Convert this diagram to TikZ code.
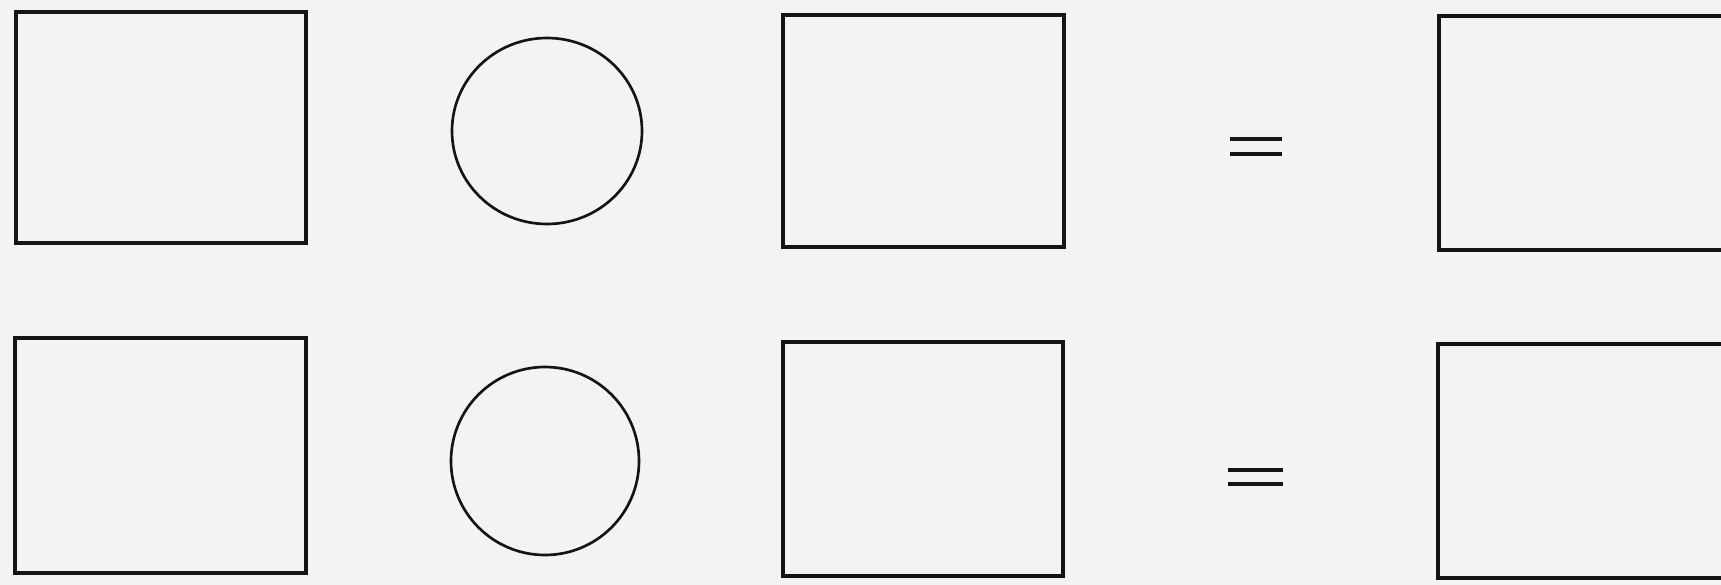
\documentclass[tikz,border=0pt]{standalone}
\definecolor{paper}{RGB}{243,243,243}
\definecolor{ink}{RGB}{20,20,20}
\tikzset{every picture/.style={line width=0.75pt}}
\tikzset{
  panel/.style={draw=ink, line width=2.4},
  ring/.style={draw=ink, line width=2},
  eqbar/.style={draw=ink, line width=2.8}
}

\begin{document}
\begin{tikzpicture}[x=0.75pt,y=0.75pt,yscale=-1,xscale=1]
%set diagram left start at 0, and has size 1721 x 585
\useasboundingbox (0,0) rectangle (1721,585);
\fill [paper] (0,0) rectangle (1721,585);
\clip (0,0) rectangle (1721,585);

%Shape: Rectangle [id:top row]
\draw [panel] (16,12) rectangle (306,243);
%Shape: Circle [id:top row]
\draw [ring] (547,131) circle [x radius=95, y radius=93];
%Shape: Rectangle [id:top row]
\draw [panel] (783,15) rectangle (1064,247);
%Straight Lines [id:equals top]
\coordinate (eqa) at (1230,139);
\coordinate (eqb) at (1282,139);
\coordinate (eqc) at (1230,154);
\coordinate (eqd) at (1282,154);
\draw [eqbar] (eqa) -- (eqb);
\draw [eqbar] (eqc) -- (eqd);
%Shape: Rectangle [id:top row]
\draw [panel] (1439,16) rectangle (1740,250);

%Shape: Rectangle [id:bottom row]
\draw [panel] (15,338) rectangle (306,573);
%Shape: Circle [id:bottom row]
\draw [ring] (545,461) circle [x radius=94, y radius=94];
%Shape: Rectangle [id:bottom row]
\draw [panel] (783,342) rectangle (1063,576);
%Straight Lines [id:equals bottom]
\coordinate (eqe) at (1228,470);
\coordinate (eqf) at (1283,470);
\coordinate (eqg) at (1228,484);
\coordinate (eqh) at (1283,484);
\draw [eqbar] (eqe) -- (eqf);
\draw [eqbar] (eqg) -- (eqh);
%Shape: Rectangle [id:bottom row]
\draw [panel] (1438,344) rectangle (1740,578);

\end{tikzpicture}
\end{document}
